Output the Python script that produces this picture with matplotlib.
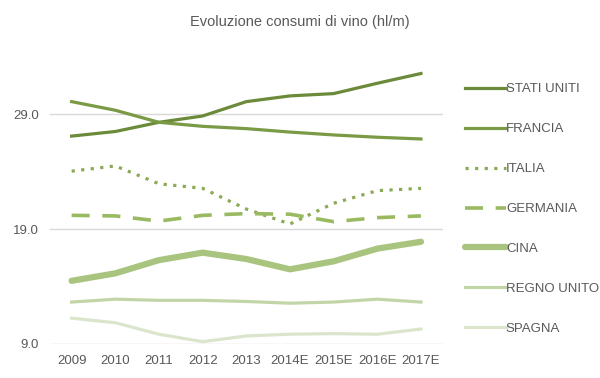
import matplotlib
matplotlib.use('Agg')
import matplotlib.pyplot as plt

# Data
years = ['2009', '2010', '2011', '2012', '2013', '2014E', '2015E', '2016E', '2017E']
stati_uniti = [27.1, 27.5, 28.3, 28.85, 30.1, 30.6, 30.8, 31.7, 32.55]
francia = [30.1, 29.35, 28.3, 27.95, 27.75, 27.45, 27.2, 27.0, 26.85]
italia = [24.05, 24.5, 22.95, 22.55, 20.75, 19.45, 21.25, 22.35, 22.55]
germania = [20.2, 20.15, 19.7, 20.2, 20.35, 20.3, 19.65, 20.0, 20.15]
cina = [14.5, 15.15, 16.3, 16.95, 16.4, 15.5, 16.2, 17.3, 17.9]
regno_unito = [12.65, 12.9, 12.8, 12.8, 12.7, 12.55, 12.65, 12.9, 12.65]
spagna = [11.25, 10.85, 9.85, 9.2, 9.7, 9.85, 9.9, 9.85, 10.3]

plt.rcParams['font.family'] = ['Liberation Sans Narrow', 'Liberation Sans', 'DejaVu Sans']

fig = plt.figure(figsize=(6, 3.78), dpi=100)
ax = fig.add_axes([0.083, 0.09, 0.655, 0.79])

x = range(len(years))
ax.plot(x, stati_uniti, color='#6b8a3a', lw=2.3, label='STATI UNITI')
ax.plot(x, francia, color='#7a9a45', lw=2.3, label='FRANCIA')
ax.plot(x, italia, color='#8aaa55', lw=2.3, ls=(0, (1, 2)), label='ITALIA')
ax.plot(x, germania, color='#9aba62', lw=2.6, ls=(0, (5, 3.5)), label='GERMANIA')
ax.plot(x, cina, color='#a9c47e', lw=4.5, solid_capstyle='round', label='CINA')
ax.plot(x, regno_unito, color='#c2d5a8', lw=2.3, label='REGNO UNITO')
ax.plot(x, spagna, color='#dbe5cc', lw=2.3, label='SPAGNA')

ax.set_xlim(-0.5, len(years) - 0.5)
ax.set_ylim(9, 35)
ax.set_yticks([9, 19, 29])
ax.set_yticklabels(['9.0', '19.0', '29.0'])
ax.set_xticks(list(x))
ax.set_xticklabels(years)
ax.yaxis.grid(True, color='#d9d9d9', lw=1)
ax.set_axisbelow(True)
for s in ['top', 'right', 'left', 'bottom']:
    ax.spines[s].set_visible(False)
ax.tick_params(length=0, labelsize=9.5, colors='#595959', pad=8)

fig.suptitle('Evoluzione consumi di vino (hl/m)', y=0.96, fontsize=10.5, color='#595959')

fig.legend(loc='center left', bbox_to_anchor=(0.775, 0.447), frameon=False,
           borderpad=0, borderaxespad=0, handlelength=3.1, handletextpad=0.0,
           labelspacing=2.1, fontsize=9.5, labelcolor='#595959')

fig.savefig('out.png', dpi=100)
